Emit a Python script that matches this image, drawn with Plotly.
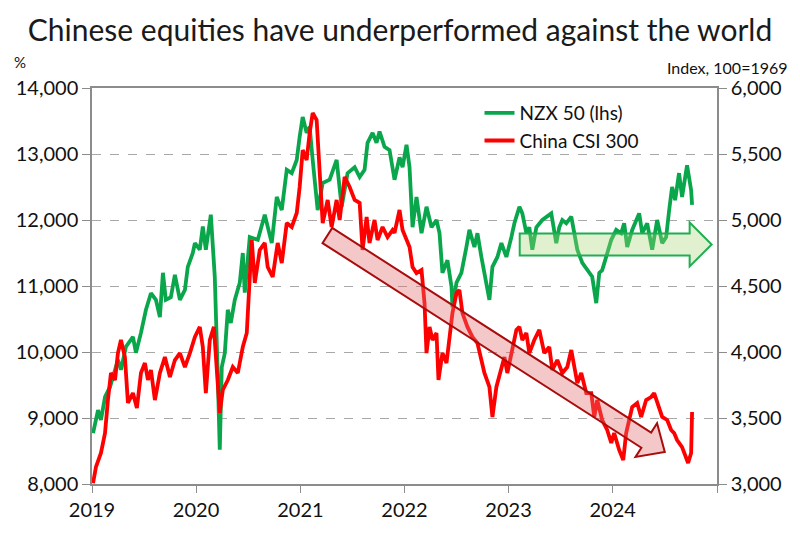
import math
import pandas as pd
import plotly.graph_objects as go

# ---------------- data ----------------
# time in decimal years since 2019-01-01
nzx_t = [0.010, 0.058, 0.086, 0.125, 0.173, 0.249, 0.278, 0.326, 0.393, 0.422, 0.470, 0.518, 0.566,
         0.614, 0.652, 0.681, 0.709, 0.757, 0.796, 0.844, 0.892, 0.920, 0.968, 0.988, 1.035, 1.064,
         1.093, 1.141, 1.179, 1.189, 1.208, 1.227, 1.246, 1.275, 1.304, 1.333, 1.371, 1.419, 1.448,
         1.467, 1.515, 1.592, 1.659, 1.726, 1.774, 1.822, 1.870, 1.918, 1.966, 1.994, 2.023, 2.061,
         2.090, 2.119, 2.167, 2.215, 2.282, 2.349, 2.397, 2.454, 2.522, 2.570, 2.617, 2.646, 2.694,
         2.732, 2.761, 2.809, 2.857, 2.905, 2.953, 2.982, 3.020, 3.049, 3.078, 3.116, 3.164, 3.212,
         3.260, 3.308, 3.337, 3.365, 3.413, 3.452, 3.461, 3.500, 3.547, 3.595, 3.624, 3.672, 3.701,
         3.739, 3.787, 3.816, 3.845, 3.893, 3.931, 3.979, 4.027, 4.056, 4.104, 4.132, 4.171, 4.199,
         4.228, 4.267, 4.324, 4.372, 4.410, 4.458, 4.487, 4.516, 4.554, 4.602, 4.631, 4.660, 4.708,
         4.756, 4.803, 4.842, 4.871, 4.899, 4.938, 4.986, 5.034, 5.081, 5.110, 5.139, 5.187, 5.254,
         5.283, 5.331, 5.379, 5.427, 5.475, 5.513, 5.542, 5.570, 5.599, 5.637, 5.666, 5.714, 5.753,
         5.762]
nzx_v = [8770, 9120, 8970, 9320, 9470, 9880, 9730, 10080, 10230, 9990, 10290, 10640, 10890,
         10790, 10530, 11200, 10790, 10830, 11170, 10790, 10940, 11290, 11500, 11650, 11550, 11900,
         11550, 12080, 11140, 10680, 9620, 8520, 9770, 9980, 10640, 10440, 10790, 11050, 11500,
         10900, 11740, 11700, 12080, 11650, 12350, 12150, 12760, 12710, 12910, 13260, 13560, 13320,
         13410, 12910, 12150, 12560, 12610, 12910, 12200, 12710, 12800, 12650, 12760, 13170, 13320,
         13170, 13340, 13110, 13060, 12610, 12950, 12800, 13140, 12800, 11890, 12350, 11800, 12200,
         11890, 12000, 11800, 11200, 11390, 10990, 10680, 11050, 11200, 11590, 11850, 11590, 11800,
         11440, 10990, 10790, 11290, 11440, 11650, 11440, 11740, 11950, 12200, 12100, 11800, 11890,
         11550, 11890, 12000, 12050, 12100, 11650, 11890, 12000, 11950, 12050, 11800, 11550, 11350,
         11240, 11140, 10740, 11200, 11240, 11440, 11700, 11850, 11800, 11950, 11590, 11850, 12100,
         11800, 11950, 11550, 12000, 11650, 11740, 12150, 12500, 12300, 12710, 12350, 12830, 12450,
         12230]

csi_t = [0.010, 0.038, 0.086, 0.125, 0.153, 0.182, 0.221, 0.249, 0.278, 0.316, 0.345, 0.393, 0.431,
         0.470, 0.508, 0.537, 0.566, 0.604, 0.652, 0.700, 0.748, 0.796, 0.844, 0.892, 0.940, 0.988,
         1.035, 1.064, 1.093, 1.131, 1.170, 1.189, 1.227, 1.256, 1.304, 1.352, 1.400, 1.448, 1.486,
         1.534, 1.563, 1.611, 1.659, 1.687, 1.735, 1.783, 1.822, 1.870, 1.918, 1.966, 1.994, 2.023,
         2.061, 2.090, 2.119, 2.157, 2.186, 2.215, 2.263, 2.301, 2.349, 2.378, 2.426, 2.474, 2.522,
         2.570, 2.598, 2.637, 2.665, 2.713, 2.742, 2.790, 2.838, 2.886, 2.905, 2.953, 2.982, 3.020,
         3.049, 3.078, 3.116, 3.164, 3.193, 3.212, 3.241, 3.270, 3.308, 3.327, 3.365, 3.404, 3.432,
         3.461, 3.500, 3.528, 3.557, 3.605, 3.653, 3.701, 3.739, 3.768, 3.816, 3.845, 3.883, 3.931,
         3.960, 3.988, 4.036, 4.075, 4.104, 4.132, 4.171, 4.199, 4.247, 4.295, 4.343, 4.391, 4.420,
         4.468, 4.516, 4.564, 4.602, 4.631, 4.660, 4.698, 4.746, 4.794, 4.823, 4.851, 4.899, 4.947,
         4.986, 5.014, 5.062, 5.101, 5.129, 5.158, 5.187, 5.235, 5.273, 5.321, 5.369, 5.398, 5.427,
         5.475, 5.523, 5.561, 5.590, 5.618, 5.666, 5.705, 5.724, 5.753, 5.762]
csi_v = [3007, 3129, 3235, 3386, 3636, 3841, 3788, 3992, 4091, 3962, 3614, 3689, 3576,
         3841, 3917, 3788, 3864, 3636, 3841, 3962, 3811, 3939, 3992, 3886, 3992, 4114,
         4190, 4038, 3689, 4091, 4190, 3939, 3538, 3712, 3788, 3886, 3841, 4038, 4144,
         4848, 4523, 4773, 4826, 4644, 4568, 4826, 4674, 4977, 4947, 5053, 5250, 5530,
         5455, 5659, 5811, 5758, 5356, 4977, 5152, 4947, 5152, 5000, 5326, 5250, 5152,
         5129, 4773, 5023, 4826, 5000, 4848, 4947, 4871, 4924, 4902, 5076, 4924, 4848,
         4795, 4644, 4598, 4621, 4371, 3992, 4190, 4091, 4144, 3788, 3992, 3917, 4091,
         4295, 4447, 4470, 4295, 4190, 4114, 4068, 3939, 3841, 3735, 3508, 3735, 3886,
         3962, 3841, 4015, 4167, 4190, 4091, 4144, 3992, 4091, 4167, 3992, 4038, 3864,
         3939, 3841, 3886, 4015, 3886, 3765, 3841, 3689, 3689, 3508, 3636, 3485, 3409,
         3311, 3386, 3258, 3182, 3386, 3485, 3583, 3614, 3508, 3636, 3659, 3689, 3614,
         3508, 3485, 3409, 3386, 3333, 3280, 3205, 3159, 3235, 3545]

year_ticks = [2019, 2020, 2021, 2022, 2023, 2024, 2025]
year_labels = ["2019", "2020", "2021", "2022", "2023", "2024", ""]

# arrows: (start decimal year, start NZX level) -> (tip decimal year, tip NZX level)
red_arrow = dict(t0=2.26, v0=11765, t1=5.50, v1=8485)
green_arrow = dict(t0=4.107, v0=11630, t1=5.95, v1=11630)

# ---------------- helpers ----------------
T0 = pd.Timestamp("2019-01-01")
X_START, X_END = pd.Timestamp("2019-01-01"), pd.Timestamp("2025-01-01")


def to_date(t):
    return T0 + pd.to_timedelta(t * 365.25, unit="D")


W, H = 800, 542
ML, MR, MT, MB = 92, 83, 88, 58
PW, PH = W - ML - MR, H - MT - MB
YL = (8000, 14000)
YR = (3000, 6000)


def data_to_px(t, v):
    d = to_date(t)
    fx = (d - X_START) / (X_END - X_START)
    fy = (v - YL[0]) / (YL[1] - YL[0])
    return fx * PW, fy * PH  # pixel offsets from plot bottom-left (y up)


def arrow_path(a, shaft, head, head_len):
    x0, y0 = data_to_px(a["t0"], a["v0"])
    x1, y1 = data_to_px(a["t1"], a["v1"])
    dx, dy = x1 - x0, y1 - y0
    L = math.hypot(dx, dy)
    ux, uy = dx / L, dy / L
    nx, ny = -uy, ux
    bx, by = x1 - ux * head_len, y1 - uy * head_len
    pts = [
        (x0 + nx * shaft / 2, y0 + ny * shaft / 2),
        (bx + nx * shaft / 2, by + ny * shaft / 2),
        (bx + nx * head / 2, by + ny * head / 2),
        (x1, y1),
        (bx - nx * head / 2, by - ny * head / 2),
        (bx - nx * shaft / 2, by - ny * shaft / 2),
        (x0 - nx * shaft / 2, y0 - ny * shaft / 2),
    ]
    s = ""
    for i, (px, py) in enumerate(pts):
        s += ("M" if i == 0 else "L") + f"{px / PW:.5f},{py / PH:.5f} "
    return s + "Z"


# ---------------- figure ----------------
GREEN = "#0aa64c"
RED = "#ff0000"
FONT = "Lato, Open Sans, sans-serif"

fig = go.Figure()
fig.add_trace(go.Scatter(x=[to_date(t) for t in nzx_t], y=nzx_v, name="NZX 50 (lhs)",
                         mode="lines", line=dict(color=GREEN, width=3.8), yaxis="y"))
fig.add_trace(go.Scatter(x=[to_date(t) for t in csi_t], y=csi_v, name="China CSI 300",
                         mode="lines", line=dict(color=RED, width=3.8), yaxis="y2"))

fig.add_shape(type="path", xref="paper", yref="paper",
              path=arrow_path(red_arrow, 18, 40, 22),
              fillcolor="rgba(225,110,110,0.38)", line=dict(color="#a80c0c", width=2), layer="above")
fig.add_shape(type="path", xref="paper", yref="paper",
              path=arrow_path(green_arrow, 22, 44, 22),
              fillcolor="rgba(170,215,120,0.35)", line=dict(color="#1fae50", width=2), layer="above")

axis_line = "#8c8c8c"
tickfont = dict(family=FONT, size=20, color="#111")
fig.update_layout(
    width=W, height=H,
    margin=dict(l=ML, r=MR, t=MT, b=MB, autoexpand=False),
    paper_bgcolor="white", plot_bgcolor="white",
    title=dict(text="Chinese equities have underperformed against the world",
               x=0.5, xanchor="center", y=1 - 30 / H, yanchor="middle",
               font=dict(family=FONT, size=30, color="#1a1a1a")),
    xaxis=dict(type="date", range=[X_START, X_END], automargin=False,
               tickvals=[pd.Timestamp(f"{y}-01-01") for y in year_ticks], ticktext=year_labels,
               ticks="outside", ticklen=7, tickcolor=axis_line, showline=True, linecolor=axis_line,
               linewidth=1.5, mirror=True, showgrid=False, tickfont=tickfont),
    yaxis=dict(range=list(YL), dtick=1000, tickformat=",", ticks="outside", ticklen=8,
               tickcolor=axis_line, showline=True, linecolor=axis_line, linewidth=1.5,
               showgrid=True, gridcolor="#a8a8a8", griddash="dash", gridwidth=1, automargin=False,
               zeroline=False, tickfont=tickfont),
    yaxis2=dict(range=list(YR), dtick=500, tickformat=",", overlaying="y", side="right",
                ticks="outside", ticklen=8, tickcolor=axis_line, showline=True, automargin=False,
                linecolor=axis_line, linewidth=1.5, showgrid=False, zeroline=False,
                tickfont=tickfont),
    legend=dict(x=0.62, y=0.985, xanchor="left", yanchor="top", bgcolor="rgba(0,0,0,0)",
                font=dict(family=FONT, size=19, color="#111"),
                itemwidth=30, tracegroupgap=0),
    showlegend=True,
    annotations=[
        dict(text="%", xref="paper", yref="paper", x=(20 - ML) / PW, y=(H - MB - 62) / PH,
             xanchor="center", yanchor="middle", showarrow=False,
             font=dict(family=FONT, size=15, color="#111")),
        dict(text="Index, 100=1969", xref="paper", yref="paper", x=(790 - ML) / PW,
             y=(H - MB - 67) / PH, xanchor="right", yanchor="middle", showarrow=False,
             font=dict(family=FONT, size=16, color="#111")),
    ],
)

fig.write_html("out.html", config={"displayModeBar": False},
               post_script="document.body.style.margin='0';")
